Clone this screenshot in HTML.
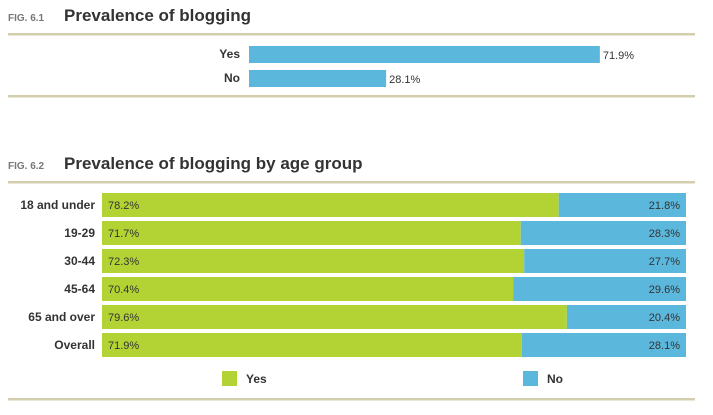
<!DOCTYPE html>
<html><head><meta charset="utf-8"><style>
body{margin:0;width:713px;height:410px;background:#fff;overflow:hidden;font-family:"Liberation Sans",Arial,sans-serif}
</style></head><body>
<svg width="713" height="410" xmlns="http://www.w3.org/2000/svg" font-family="Liberation Sans, Arial, sans-serif">
<g>
<text x="8" y="21" font-size="10" font-weight="bold" fill="#777">FIG. 6.1</text>
<text x="64" y="21" font-size="17" font-weight="bold" fill="#333">Prevalence of blogging</text>
<rect x="8" y="33" width="687" height="2.5" fill="#d3cfae"/>
<g id="c1"></g>
<rect x="8" y="95" width="687" height="2.5" fill="#d3cfae"/>
</g>
<g>
<text x="8" y="169" font-size="10" font-weight="bold" fill="#777">FIG. 6.2</text>
<text x="64" y="169" font-size="17" font-weight="bold" fill="#333">Prevalence of blogging by age group</text>
<rect x="8" y="181" width="687" height="2.5" fill="#d3cfae"/>
<g id="c2"></g>
<rect x="222" y="371" width="15" height="15" fill="#b3d334"/>
<text x="246" y="383" font-size="12" font-weight="bold" fill="#333">Yes</text>
<rect x="523" y="371" width="15" height="15" fill="#5bb8dc"/>
<text x="547" y="383" font-size="12" font-weight="bold" fill="#333">No</text>
<rect x="8" y="398" width="687" height="2.5" fill="#d3cfae"/>
</g>
</svg>
<script>
const cats1 = ["Yes","No"];
const vals1 = [71.9,28.1];
const cats2 = ["18 and under","19-29","30-44","45-64","65 and over","Overall"];
const yesVals = [78.2,71.7,72.3,70.4,79.6,71.9];
const noVals = [21.8,28.3,27.7,29.6,20.4,28.1];
const NS="http://www.w3.org/2000/svg";
function mk(tag,attrs,parent,text){const e=document.createElementNS(NS,tag);for(const k in attrs)e.setAttribute(k,attrs[k]);if(text!==undefined)e.textContent=text;parent.appendChild(e);return e;}
const g1=document.getElementById('c1');
const x1=v=>v/100*488;
cats1.forEach((c,i)=>{
  const y=46+i*24;
  const l=mk('text',{x:240,y:y+12,'font-size':12,'font-weight':'bold',fill:'#333','text-anchor':'end'},g1,c);
  
  
  const b=mk('rect',{x:249,y:y,width:x1(vals1[i]),height:17,fill:'#5bb8dc'},g1);
  
  
  const t=mk('text',{x:249+x1(vals1[i])+3,y:y+13,'font-size':11,fill:'#333'},g1,vals1[i].toFixed(1)+'%');
  
  
});
const g2=document.getElementById('c2');
const W=584,X0=102;
const x2=v=>v/100*W;
cats2.forEach((c,i)=>{
  const y=193+i*28;
  const l=mk('text',{x:95,y:y+16,'font-size':12,'font-weight':'bold',fill:'#333','text-anchor':'end'},g2,c);
  
  
  const tot=yesVals[i]+noVals[i];
  const wy=x2(yesVals[i]/tot*100);
  const b1=mk('rect',{x:X0,y:y,width:wy,height:24,fill:'#b3d334'},g2);
  
  
  const b2=mk('rect',{x:X0+wy,y:y,width:W-wy,height:24,fill:'#5bb8dc'},g2);
  
  
  const t1=mk('text',{x:X0+6,y:y+16,'font-size':11,fill:'#333'},g2,yesVals[i].toFixed(1)+'%');
  
  
  const t2=mk('text',{x:X0+W-6,y:y+16,'font-size':11,fill:'#333','text-anchor':'end'},g2,noVals[i].toFixed(1)+'%');
  
  
});
</script>
</body></html>
